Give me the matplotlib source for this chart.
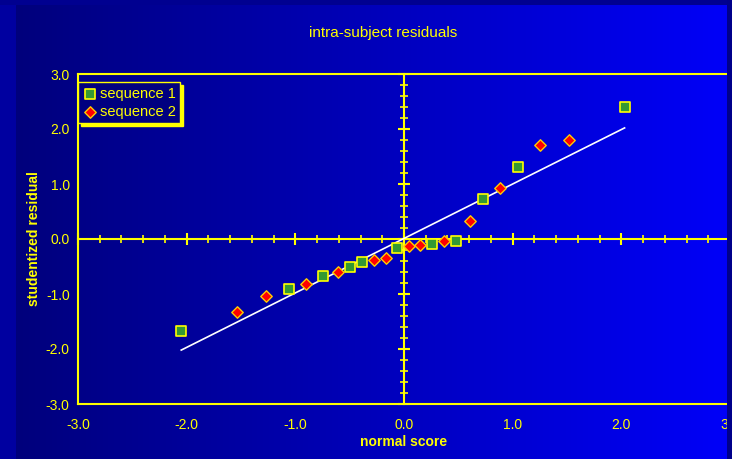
import numpy as np
import matplotlib
matplotlib.use('Agg')
import matplotlib.pyplot as plt
from matplotlib.patches import Rectangle
from matplotlib.ticker import MultipleLocator
from matplotlib.colors import LinearSegmentedColormap

plt.rcParams['font.family'] = ['Liberation Sans', 'DejaVu Sans']

# 数据
seq1_x = [-2.05, -1.06, -0.75, -0.50, -0.39, -0.06, 0.26, 0.48, 0.73, 1.05, 2.03]
seq1_y = [-1.67, -0.91, -0.67, -0.51, -0.42, -0.16, -0.09, -0.04, 0.73, 1.31, 2.40]
seq2_x = [-1.54, -1.27, -0.90, -0.61, -0.28, -0.17, 0.05, 0.15, 0.37, 0.61, 0.88, 1.25, 1.52]
seq2_y = [-1.33, -1.04, -0.82, -0.60, -0.38, -0.35, -0.13, -0.11, -0.04, 0.33, 0.93, 1.71, 1.80]
fit_x = [-2.05, 2.03]
fit_y = [-2.02, 2.02]
ticks = [-3.0, -2.0, -1.0, 0.0, 1.0, 2.0, 3.0]

yellow = '#ffff00'
W, H = 732, 459
fig = plt.figure(figsize=(W / 100, H / 100), dpi=100)
fig.patch.set_facecolor('#0000a0')

# 背景渐变
bg = fig.add_axes([0, 0, 1, 1], zorder=-10)
grad = np.linspace(0, 1, 256).reshape(1, -1)
cmap = LinearSegmentedColormap.from_list('bg', ['#00007c', '#0000f8'])
bg.imshow(grad, aspect='auto', cmap=cmap, extent=[16 / W, 727 / W, 0, 1 - 5 / H])
bg.set_xlim(0, 1)
bg.set_ylim(0, 1)
bg.set_facecolor('#0000a8')
bg.add_patch(Rectangle((0, 1 - 5 / H), 1, 1, facecolor='#000090', edgecolor='none'))
bg.add_patch(Rectangle((727 / W, 0), 1, 1, facecolor='#00008a', edgecolor='none'))
bg.axis('off')

pos = [78 / W, 55 / H, (730 - 78) / W, (404 - 74) / H]

# 零点坐标轴
ax0 = fig.add_axes(pos, zorder=1)
ax0.set_facecolor('none')
ax0.set_xlim(-3, 3)
ax0.set_ylim(-3, 3)
for s in ['top', 'right']:
    ax0.spines[s].set_visible(False)
for s in ['left', 'bottom']:
    ax0.spines[s].set_position('zero')
    ax0.spines[s].set_color(yellow)
    ax0.spines[s].set_linewidth(1.5)
ax0.xaxis.set_major_locator(MultipleLocator(1))
ax0.xaxis.set_minor_locator(MultipleLocator(0.2))
ax0.yaxis.set_major_locator(MultipleLocator(1))
ax0.yaxis.set_minor_locator(MultipleLocator(0.2))
ax0.tick_params(which='major', direction='inout', length=8, width=1.5, color=yellow,
                labelbottom=False, labelleft=False)
ax0.tick_params(which='minor', direction='inout', length=6, width=1.2, color=yellow)

# 主坐标轴
ax = fig.add_axes(pos, zorder=2)
ax.set_facecolor('none')
ax.plot(fit_x, fit_y, color='white', lw=1.2, zorder=2)
ax.scatter(seq1_x, seq1_y, marker='s', s=42, c='#339933', edgecolors=yellow,
           linewidths=1.2, label='sequence 1', zorder=3)
ax.scatter(seq2_x, seq2_y, marker='D', s=34, c='#ff0000', edgecolors='#ffcc00',
           linewidths=1.0, label='sequence 2', zorder=3)
ax.set_xlim(-3, 3)
ax.set_ylim(-3, 3)
ax.set_xticks(ticks)
ax.set_yticks(ticks)
ax.set_xticklabels([f'{t:.1f}' for t in ticks])
ax.set_yticklabels([f'{t:.1f}' for t in ticks])
ax.tick_params(length=0, labelcolor=yellow, labelsize=10, pad=10)
ax.tick_params(axis='y', pad=6)
for s in ['top', 'left', 'bottom']:
    ax.spines[s].set_color(yellow)
    ax.spines[s].set_linewidth(1.5)
ax.spines['right'].set_visible(False)
ax.set_xlabel('normal score', color=yellow, fontsize=10, fontweight='bold', labelpad=2)
ax.set_ylabel('studentized residual', color=yellow, fontsize=10, fontweight='bold', labelpad=3)

leg = ax.legend(loc='upper left', bbox_to_anchor=(0.0, 0.975), frameon=True, fancybox=False,
                shadow={'color': yellow, 'alpha': 1.0}, fontsize=10.5, borderpad=0.3,
                handletextpad=0.2, handlelength=1.0, labelspacing=0.3, borderaxespad=0.0)
leg.get_frame().set_facecolor('#000080')
leg.get_frame().set_edgecolor(yellow)
for t in leg.get_texts():
    t.set_color(yellow)

fig.text(383 / W, 1 - 33 / H, 'intra-subject residuals', color=yellow, fontsize=11,
         ha='center', va='center')

# 右侧暗边
fig.add_artist(Rectangle((727 / W, 0), 1, 1, transform=fig.transFigure,
                         facecolor='#00008a', edgecolor='none', zorder=50))

fig.savefig('out.png', dpi=100, facecolor=fig.get_facecolor())
